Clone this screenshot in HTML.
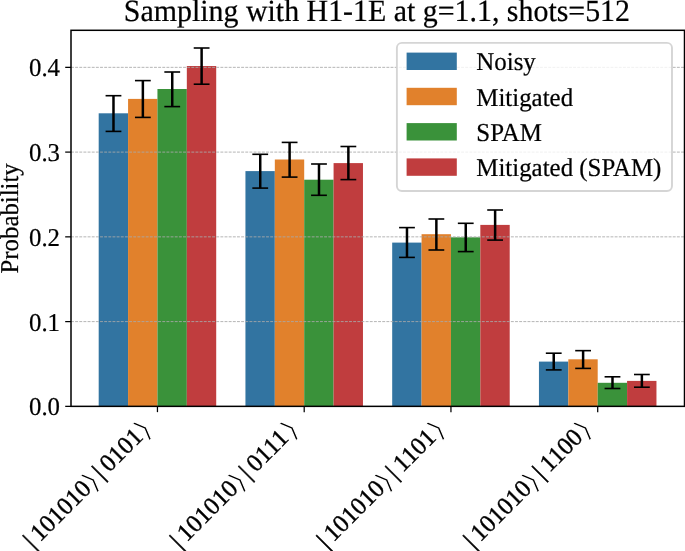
<!DOCTYPE html>
<html><head><meta charset="utf-8"><title>Sampling with H1-1E</title>
<style>
html,body{margin:0;padding:0;background:#fff;}
body{width:685px;height:551px;overflow:hidden;}
svg{display:block;}
text{font-family:"Liberation Serif", "DejaVu Serif", serif;fill:#000;stroke:#000;stroke-width:0.22px;text-rendering:geometricPrecision;}
.rg{font-family:"DejaVu Sans","DejaVu Serif",sans-serif;stroke:#fff;}
.br{stroke-width:0.5px;}
.xd{stroke-width:0.4px;}
</style></head><body>
<svg width="685" height="551" viewBox="0 0 685 551">
<rect x="0" y="0" width="685" height="551" fill="#fff"/>
<g>
<rect x="98.69" y="113.30" width="29.38" height="293.05" fill="#3274a1"/>
<rect x="128.07" y="98.90" width="29.38" height="307.45" fill="#e1812c"/>
<rect x="157.45" y="89.00" width="29.38" height="317.35" fill="#3a923a"/>
<rect x="186.83" y="66.00" width="29.38" height="340.35" fill="#c03d3e"/>
<rect x="245.44" y="171.10" width="29.38" height="235.25" fill="#3274a1"/>
<rect x="274.82" y="159.50" width="29.38" height="246.85" fill="#e1812c"/>
<rect x="304.20" y="179.70" width="29.38" height="226.65" fill="#3a923a"/>
<rect x="333.58" y="163.10" width="29.38" height="243.25" fill="#c03d3e"/>
<rect x="392.19" y="242.60" width="29.38" height="163.75" fill="#3274a1"/>
<rect x="421.57" y="234.20" width="29.38" height="172.15" fill="#e1812c"/>
<rect x="450.95" y="237.30" width="29.38" height="169.05" fill="#3a923a"/>
<rect x="480.33" y="224.90" width="29.38" height="181.45" fill="#c03d3e"/>
<rect x="538.94" y="361.60" width="29.38" height="44.75" fill="#3274a1"/>
<rect x="568.32" y="359.30" width="29.38" height="47.05" fill="#e1812c"/>
<rect x="597.70" y="382.80" width="29.38" height="23.55" fill="#3a923a"/>
<rect x="627.08" y="380.90" width="29.38" height="25.45" fill="#c03d3e"/>
</g>
<g stroke="#a8a8a8" stroke-opacity="0.9" stroke-width="0.95" stroke-dasharray="2.9 1.25" fill="none">
<line x1="71.0" x2="684.5" y1="321.60" y2="321.60"/>
<line x1="71.0" x2="684.5" y1="236.85" y2="236.85"/>
<line x1="71.0" x2="684.5" y1="152.10" y2="152.10"/>
<line x1="71.0" x2="684.5" y1="67.35" y2="67.35"/>
</g>
<g stroke="#000" fill="none">
<line x1="113.48" x2="113.48" y1="95.70" y2="131.40" stroke-width="2.5"/>
<line x1="105.58" x2="121.38" y1="95.70" y2="95.70" stroke-width="1.6"/>
<line x1="105.58" x2="121.38" y1="131.40" y2="131.40" stroke-width="1.6"/>
<line x1="142.86" x2="142.86" y1="80.60" y2="117.40" stroke-width="2.5"/>
<line x1="134.96" x2="150.76" y1="80.60" y2="80.60" stroke-width="1.6"/>
<line x1="134.96" x2="150.76" y1="117.40" y2="117.40" stroke-width="1.6"/>
<line x1="172.24" x2="172.24" y1="72.00" y2="106.60" stroke-width="2.5"/>
<line x1="164.34" x2="180.14" y1="72.00" y2="72.00" stroke-width="1.6"/>
<line x1="164.34" x2="180.14" y1="106.60" y2="106.60" stroke-width="1.6"/>
<line x1="201.62" x2="201.62" y1="48.00" y2="84.20" stroke-width="2.5"/>
<line x1="193.72" x2="209.52" y1="48.00" y2="48.00" stroke-width="1.6"/>
<line x1="193.72" x2="209.52" y1="84.20" y2="84.20" stroke-width="1.6"/>
<line x1="260.23" x2="260.23" y1="154.30" y2="188.10" stroke-width="2.5"/>
<line x1="252.33" x2="268.13" y1="154.30" y2="154.30" stroke-width="1.6"/>
<line x1="252.33" x2="268.13" y1="188.10" y2="188.10" stroke-width="1.6"/>
<line x1="289.61" x2="289.61" y1="142.40" y2="177.10" stroke-width="2.5"/>
<line x1="281.71" x2="297.51" y1="142.40" y2="142.40" stroke-width="1.6"/>
<line x1="281.71" x2="297.51" y1="177.10" y2="177.10" stroke-width="1.6"/>
<line x1="318.99" x2="318.99" y1="164.00" y2="195.30" stroke-width="2.5"/>
<line x1="311.09" x2="326.89" y1="164.00" y2="164.00" stroke-width="1.6"/>
<line x1="311.09" x2="326.89" y1="195.30" y2="195.30" stroke-width="1.6"/>
<line x1="348.37" x2="348.37" y1="146.50" y2="179.60" stroke-width="2.5"/>
<line x1="340.47" x2="356.27" y1="146.50" y2="146.50" stroke-width="1.6"/>
<line x1="340.47" x2="356.27" y1="179.60" y2="179.60" stroke-width="1.6"/>
<line x1="406.98" x2="406.98" y1="227.60" y2="257.40" stroke-width="2.5"/>
<line x1="399.08" x2="414.88" y1="227.60" y2="227.60" stroke-width="1.6"/>
<line x1="399.08" x2="414.88" y1="257.40" y2="257.40" stroke-width="1.6"/>
<line x1="436.36" x2="436.36" y1="219.00" y2="250.00" stroke-width="2.5"/>
<line x1="428.46" x2="444.26" y1="219.00" y2="219.00" stroke-width="1.6"/>
<line x1="428.46" x2="444.26" y1="250.00" y2="250.00" stroke-width="1.6"/>
<line x1="465.74" x2="465.74" y1="223.30" y2="251.60" stroke-width="2.5"/>
<line x1="457.84" x2="473.64" y1="223.30" y2="223.30" stroke-width="1.6"/>
<line x1="457.84" x2="473.64" y1="251.60" y2="251.60" stroke-width="1.6"/>
<line x1="495.12" x2="495.12" y1="210.00" y2="240.10" stroke-width="2.5"/>
<line x1="487.22" x2="503.02" y1="210.00" y2="210.00" stroke-width="1.6"/>
<line x1="487.22" x2="503.02" y1="240.10" y2="240.10" stroke-width="1.6"/>
<line x1="553.73" x2="553.73" y1="353.20" y2="369.90" stroke-width="2.5"/>
<line x1="545.83" x2="561.63" y1="353.20" y2="353.20" stroke-width="1.6"/>
<line x1="545.83" x2="561.63" y1="369.90" y2="369.90" stroke-width="1.6"/>
<line x1="583.11" x2="583.11" y1="350.65" y2="368.40" stroke-width="2.5"/>
<line x1="575.21" x2="591.01" y1="350.65" y2="350.65" stroke-width="1.6"/>
<line x1="575.21" x2="591.01" y1="368.40" y2="368.40" stroke-width="1.6"/>
<line x1="612.49" x2="612.49" y1="376.80" y2="388.50" stroke-width="2.5"/>
<line x1="604.59" x2="620.39" y1="376.80" y2="376.80" stroke-width="1.6"/>
<line x1="604.59" x2="620.39" y1="388.50" y2="388.50" stroke-width="1.6"/>
<line x1="641.87" x2="641.87" y1="374.50" y2="387.20" stroke-width="2.5"/>
<line x1="633.97" x2="649.77" y1="374.50" y2="374.50" stroke-width="1.6"/>
<line x1="633.97" x2="649.77" y1="387.20" y2="387.20" stroke-width="1.6"/>
</g>
<g stroke="#000" stroke-width="1.25" fill="none">
<line x1="65.20" x2="71.0" y1="406.35" y2="406.35"/>
<line x1="65.20" x2="71.0" y1="321.60" y2="321.60"/>
<line x1="65.20" x2="71.0" y1="236.85" y2="236.85"/>
<line x1="65.20" x2="71.0" y1="152.10" y2="152.10"/>
<line x1="65.20" x2="71.0" y1="67.35" y2="67.35"/>
<line x1="157.45" x2="157.45" y1="406.35" y2="412.15"/>
<line x1="304.20" x2="304.20" y1="406.35" y2="412.15"/>
<line x1="450.95" x2="450.95" y1="406.35" y2="412.15"/>
<line x1="597.70" x2="597.70" y1="406.35" y2="412.15"/>
</g>
<rect x="71.0" y="30.3" width="613.50" height="376.05" fill="none" stroke="#000" stroke-width="1.5"/>
<text transform="translate(60.00,415.45) scale(1,1.035)" font-size="24.8" text-anchor="end">0.0</text>
<text transform="translate(60.00,330.70) scale(1,1.035)" font-size="24.8" text-anchor="end">0.1</text>
<text transform="translate(60.00,245.95) scale(1,1.035)" font-size="24.8" text-anchor="end">0.2</text>
<text transform="translate(60.00,161.20) scale(1,1.035)" font-size="24.8" text-anchor="end">0.3</text>
<text transform="translate(60.00,76.45) scale(1,1.035)" font-size="24.8" text-anchor="end">0.4</text>
<text transform="translate(17.50,218.33) rotate(-90) scale(1,1.035)" font-size="24.8" text-anchor="middle">Probability</text>
<text transform="translate(376.95,20.80) scale(1,1.035)" font-size="29.9" text-anchor="middle">Sampling with H1-1E at g=1.1, shots=512</text>
<g transform="translate(149.45,432.35) rotate(-45)"><text transform="translate(-164.80,0.40)" font-size="24.8" class="br">|</text><text transform="translate(-155.35,0.40)" font-size="24.8" class="xd">101010</text><text transform="translate(-82.37,2.24) scale(1.3,1)" font-size="26.6" class="rg" style="stroke-width:0.9px">⟩</text><text transform="translate(-67.00,0.40)" font-size="24.8" class="br">|</text><text transform="translate(-57.20,0.40)" font-size="24.8" class="xd">0101</text><text transform="translate(-8.87,2.24) scale(1.3,1)" font-size="26.6" class="rg" style="stroke-width:0.9px">⟩</text></g>
<g transform="translate(296.20,432.35) rotate(-45)"><text transform="translate(-164.80,0.40)" font-size="24.8" class="br">|</text><text transform="translate(-155.35,0.40)" font-size="24.8" class="xd">101010</text><text transform="translate(-82.37,2.24) scale(1.3,1)" font-size="26.6" class="rg" style="stroke-width:0.9px">⟩</text><text transform="translate(-67.00,0.40)" font-size="24.8" class="br">|</text><text transform="translate(-57.20,0.40)" font-size="24.8" class="xd">0111</text><text transform="translate(-8.87,2.24) scale(1.3,1)" font-size="26.6" class="rg" style="stroke-width:0.9px">⟩</text></g>
<g transform="translate(442.95,432.35) rotate(-45)"><text transform="translate(-164.80,0.40)" font-size="24.8" class="br">|</text><text transform="translate(-155.35,0.40)" font-size="24.8" class="xd">101010</text><text transform="translate(-82.37,2.24) scale(1.3,1)" font-size="26.6" class="rg" style="stroke-width:0.9px">⟩</text><text transform="translate(-67.00,0.40)" font-size="24.8" class="br">|</text><text transform="translate(-57.20,0.40)" font-size="24.8" class="xd">1101</text><text transform="translate(-8.87,2.24) scale(1.3,1)" font-size="26.6" class="rg" style="stroke-width:0.9px">⟩</text></g>
<g transform="translate(589.70,432.35) rotate(-45)"><text transform="translate(-164.80,0.40)" font-size="24.8" class="br">|</text><text transform="translate(-155.35,0.40)" font-size="24.8" class="xd">101010</text><text transform="translate(-82.37,2.24) scale(1.3,1)" font-size="26.6" class="rg" style="stroke-width:0.9px">⟩</text><text transform="translate(-67.00,0.40)" font-size="24.8" class="br">|</text><text transform="translate(-57.20,0.40)" font-size="24.8" class="xd">1100</text><text transform="translate(-8.87,2.24) scale(1.3,1)" font-size="26.6" class="rg" style="stroke-width:0.9px">⟩</text></g>
<rect x="396.9" y="42.85" width="275.10" height="148.10" rx="5" ry="5" fill="#fff" fill-opacity="0.8" stroke="#d0d0d0" stroke-opacity="0.9" stroke-width="1.9"/>
<rect x="406.6" y="52.6" width="50.2" height="17.4" fill="#3274a1"/>
<text transform="translate(476.30,70.40) scale(1,1.035)" font-size="24.9">Noisy</text>
<rect x="406.6" y="87.8" width="50.2" height="17.4" fill="#e1812c"/>
<text transform="translate(476.30,105.60) scale(1,1.035)" font-size="24.9">Mitigated</text>
<rect x="406.6" y="123.1" width="50.2" height="17.4" fill="#3a923a"/>
<text transform="translate(476.30,140.90) scale(1,1.035)" font-size="24.9">SPAM</text>
<rect x="406.6" y="158.4" width="50.2" height="17.4" fill="#c03d3e"/>
<text transform="translate(476.30,176.20) scale(1,1.035)" font-size="24.9">Mitigated (SPAM)</text>
</svg></body></html>
